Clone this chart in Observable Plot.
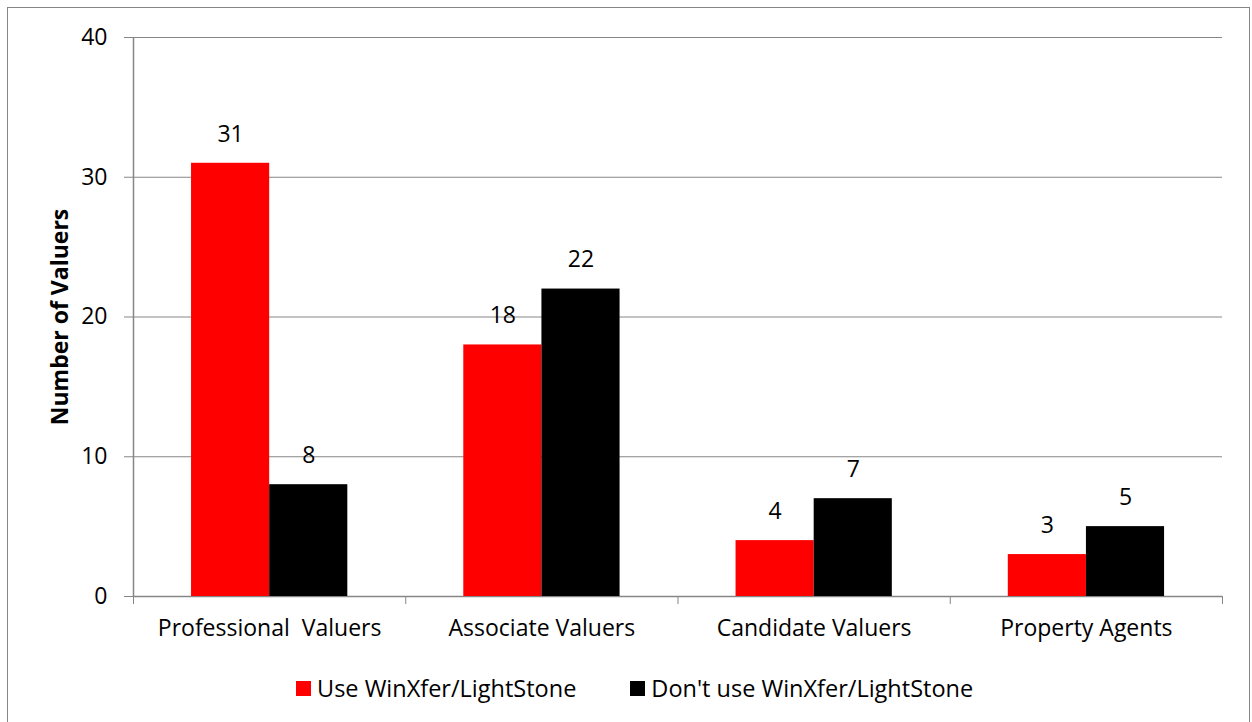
<!DOCTYPE html>
<html>
<head>
<meta charset="utf-8">
<script src="https://cdn.jsdelivr.net/npm/d3@7"></script>
<script src="https://cdn.jsdelivr.net/npm/@observablehq/plot@0.6"></script>
<style>
  html, body { margin: 0; padding: 0; background: #fff; }
  #chart { position: relative; width: 1252px; height: 722px; overflow: hidden;
           font-family: "Open Sans", sans-serif; }
  #frame { position: absolute; left: 7px; top: 7px; width: 1243px; height: 730px;
           border: 1.5px solid #868686; box-sizing: border-box; }
  #chart svg { position: absolute; left: 0; top: 0; }
  #chart svg text { white-space: pre; }
  #legend { position: absolute; top: 672px; left: 296px;
            display: flex; gap: 0; font-size: 23.5px; line-height: 32px; color: #000; }
  .key { display: flex; align-items: center; white-space: pre; }
  .key + .key { margin-left: 54px; }
  .swatch { width: 15px; height: 15px; margin-right: 6px; }
</style>
</head>
<body>
<div id="chart">
  <div id="frame"></div>
  <div id="legend"></div>
</div>
<script>
// Survey of valuers: who uses WinXfer/LightStone
const categories = ["Professional  Valuers", "Associate Valuers", "Candidate Valuers", "Property Agents"];
const seriesNames = ["Use WinXfer/LightStone", "Don't use WinXfer/LightStone"];
const useCounts = [31, 18, 4, 3];
const dontUseCounts = [8, 22, 7, 5];
const seriesColors = ["#ff0000", "#000000"];
const yTicks = [0, 10, 20, 30, 40];

// grouped-bar layout within each category slot (fractions of one slot)
const groupInset = 0.2132;
const barWidth = 0.287;

const rows = categories.flatMap((category, i) =>
  [useCounts, dontUseCounts].map((values, j) => ({
    category, i, j, series: seriesNames[j], value: values[i]
  }))
);
const left = d => d.i + groupInset + d.j * barWidth;

const grey = "#868686";

const chart = Plot.plot({
  width: 1252,
  height: 660,
  marginLeft: 133,
  marginRight: 30,
  marginTop: 37,
  marginBottom: 64,
  style: { fontFamily: "'Open Sans', sans-serif", fontSize: "23px", color: "#000", background: "transparent" },
  x: { type: "linear", domain: [0, categories.length] },
  y: { type: "linear", domain: [0, 40] },
  color: { domain: seriesNames, range: seriesColors },
  marks: [
    Plot.gridY({ ticks: yTicks, stroke: grey, strokeOpacity: 1 }),
    Plot.ruleX([0], { y1: 0, y2: 40, stroke: grey, strokeWidth: 1.5 }),
    Plot.ruleY([0], { stroke: grey, strokeWidth: 1.5 }),
    Plot.axisY({ ticks: yTicks, tickSize: 9, tickPadding: 17, stroke: grey, fill: "#000", label: null }),
    Plot.axisX({ ticks: d3.range(categories.length + 1), tickSize: 8, tickFormat: () => "", stroke: grey, label: null }),
    Plot.axisX({ ticks: categories.map((c, i) => i + 0.5), tickSize: 0, tickPadding: 23,
                 tickFormat: v => categories[Math.floor(v)], fill: "#000", label: null }),
    Plot.text(["Number of Valuers"], { frameAnchor: "left", textAnchor: "middle", rotate: -90, dx: -73,
                                       fontWeight: "bold", fill: "#000" }),
    Plot.rect(rows, { x1: left, x2: d => left(d) + barWidth, y1: 0, y2: "value", fill: "series" }),
    Plot.text(rows, { x: d => left(d) + barWidth / 2, y: "value", text: "value", dy: -29, fill: "#000" })
  ]
});
document.getElementById("chart").appendChild(chart);

// legend below the plot
const legend = d3.select("#legend");
seriesNames.forEach((name, j) => {
  const key = legend.append("div").attr("class", "key");
  key.append("div").attr("class", "swatch").style("background", seriesColors[j]);
  key.append("span").text(name);
});
</script>
</body>
</html>
